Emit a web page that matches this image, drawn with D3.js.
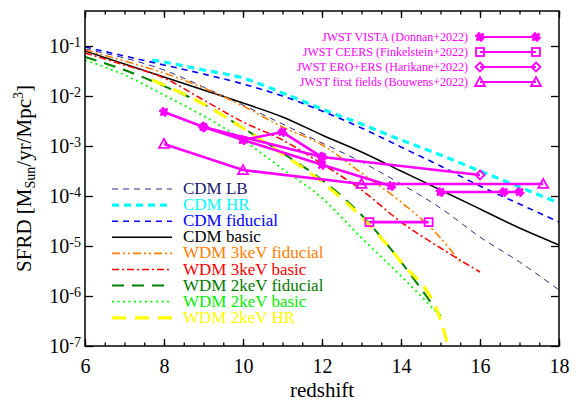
<!DOCTYPE html>
<html>
<head>
<meta charset="utf-8">
<script src="https://cdn.jsdelivr.net/npm/d3@7"></script>
<style>
body { margin: 0; background: white; }
svg { display: block; font-family: 'Liberation Serif', 'Times New Roman', serif; }
</style>
</head>
<body>
<svg id="fig_sfrd"></svg>
<script>
'use strict';

// ---- model curves: redshift and SFRD [Msun/yr/Mpc^3]
const z_full = [6, 7, 8, 9, 10, 11, 12, 13, 14, 15, 16, 17, 18];
const sfrd_cdm_lb = [8.7e-2, 5.75e-2, 3.31e-2, 1.51e-2, 6.6e-3, 2.75e-3, 1.15e-3, 4.8e-4, 1.74e-4, 5.75e-5, 1.51e-5, 4.8e-6, 1.32e-6];
const z_cdm_hr = [7.7, 8, 9, 10, 11, 12, 13, 14, 15, 16, 17, 18];
const sfrd_cdm_hr = [5.25e-2, 4.79e-2, 3.31e-2, 2.29e-2, 1.15e-2, 5.5e-3, 2.75e-3, 1.32e-3, 6.6e-4, 3.16e-4, 1.51e-4, 7.24e-5];
const sfrd_cdm_fid = [9.55e-2, 6.31e-2, 4.17e-2, 2.75e-2, 1.74e-2, 1.0e-2, 5.0e-3, 2.29e-3, 9.55e-4, 3.98e-4, 1.58e-4, 6.92e-5, 3.02e-5];
const sfrd_cdm_basic = [7.94e-2, 4.37e-2, 2.4e-2, 1.32e-2, 7.24e-3, 3.8e-3, 1.66e-3, 7.59e-4, 3.16e-4, 1.32e-4, 5.5e-5, 2.29e-5, 1.05e-5];
const z_wdm3_fid = [6, 7, 8, 9, 10, 11, 12, 13, 14, 15, 15.5];
const sfrd_wdm3_fid = [8.32e-2, 5.01e-2, 2.88e-2, 1.45e-2, 6.31e-3, 2.4e-3, 1.05e-3, 2.88e-4, 7.59e-5, 1.45e-5, 4.8e-6];
const z_wdm3_basic = [6, 7, 8, 9, 10, 11, 12, 13, 14, 15, 16];
const sfrd_wdm3_basic = [7.24e-2, 4.17e-2, 2.29e-2, 8.32e-3, 3.02e-3, 1.32e-3, 4.37e-4, 1.32e-4, 3.02e-5, 9.12e-6, 3.02e-6];
const z_wdm2 = [6, 7, 8, 9, 10, 11, 12, 13, 14, 15];
const sfrd_wdm2_fid = [6.03e-2, 3.31e-2, 1.58e-2, 6.92e-3, 2.29e-3, 7.24e-4, 2.09e-4, 4.17e-5, 4.79e-6, 3.98e-7];
const sfrd_wdm2_basic = [5.25e-2, 2.63e-2, 1.05e-2, 3.98e-3, 1.32e-3, 3.47e-4, 9.12e-5, 1.45e-5, 2.51e-6, 3.98e-7];
const z_wdm2_hr = [7.7, 8, 9, 10, 11, 12, 13, 14, 15, 15.2];
const sfrd_wdm2_hr = [2.09e-2, 1.66e-2, 6.92e-3, 2.29e-3, 6.92e-4, 1.91e-4, 3.8e-5, 4.79e-6, 3.31e-7, 9.5e-8];

const model_names = ['CDM LB', 'CDM HR', 'CDM fiducial', 'CDM basic', 'WDM 3keV fiducial',
    'WDM 3keV basic', 'WDM 2keV fiducial', 'WDM 2keV basic', 'WDM 2keV HR'];

// ---- JWST observations, each list is drawn as connected points
const donnan_z = [[8, 9, 10, 11, 12], [10, 12, 13.75], [15, 16.6, 17]];
const donnan_sfrd = [[4.8e-3, 2.4e-3, 1.32e-3, 1.9e-3, 6.0e-4], [1.32e-3, 4.2e-4, 1.58e-4], [1.2e-4, 1.2e-4, 1.2e-4]];
const finkelstein_z = [[13.2, 14.7]];
const finkelstein_sfrd = [[3.0e-5, 3.0e-5]];
const harikane_z = [[9, 12, 16]];
const harikane_sfrd = [[2.4e-3, 6.0e-4, 2.63e-4]];
const bouwens_z = [[8, 10, 13, 17.6]];
const bouwens_sfrd = [[1.1e-3, 3.3e-4, 1.74e-4, 1.74e-4]];

const obs_names = ['JWST VISTA (Donnan+2022)', 'JWST CEERS (Finkelstein+2022)',
    'JWST ERO+ERS (Harikane+2022)', 'JWST first fields (Bouwens+2022)'];

// ---- axes ticks
const x_major = [6, 8, 10, 12, 14, 16, 18];
const x_minor = d3.range(6, 18.01, 0.5);
const y_major = [1e-7, 1e-6, 1e-5, 1e-4, 1e-3, 1e-2, 1e-1];

const fig_sfrd = {
    plot_id: '#fig_sfrd',
    width: 581,
    height: 401,
    left: 85,
    right: 559,
    top: 11,
    bottom: 346,
    magenta: '#ff00ff',

    // line styles, same order as model_names
    styles: [
        { color: '#2a2a8a', text: '#1a1a70', width: 1, dash: '6,5' },
        { color: '#00ffff', text: '#00ffff', width: 3.2, dash: '7,5' },
        { color: '#0000ff', text: '#0000ff', width: 1.6, dash: '6,5' },
        { color: '#000000', text: '#000000', width: 1.5, dash: null },
        { color: '#ff8000', text: '#ff8000', width: 1.6, dash: '8,3,2,3,2,3' },
        { color: '#ff0000', text: '#ff0000', width: 1.6, dash: '7,3,2,3' },
        { color: '#008000', text: '#007800', width: 2, dash: '12,8' },
        { color: '#00ff00', text: '#00ee00', width: 1.8, dash: '2,3.5' },
        { color: '#ffff00', text: '#ffff00', width: 3.2, dash: '14,9' }
    ],
    markers: ['asterisk', 'square', 'diamond', 'triangle'],

    init: function() {
        this.svg = d3.select(this.plot_id)
            .attr('width', this.width)
            .attr('height', this.height);
        this.x = d3.scaleLinear().domain([6, 18]).range([this.left, this.right]);
        this.y = d3.scaleLog().domain([1e-7, Math.pow(10, -0.3)]).range([this.bottom, this.top]);

        this.svg.append('clipPath')
            .attr('id', 'clip_plot')
            .append('rect')
            .attr('x', this.left)
            .attr('y', this.top)
            .attr('width', this.right - this.left)
            .attr('height', this.bottom - this.top);
    },

    draw: function() {
        this.init();
        this._draw_models();
        this._draw_obs();
        this._draw_axes();
        this._draw_legends();
    },

    _draw_models: function() {
        var self = this;
        var series = [
            [z_full, sfrd_cdm_lb],
            [z_cdm_hr, sfrd_cdm_hr],
            [z_full, sfrd_cdm_fid],
            [z_full, sfrd_cdm_basic],
            [z_wdm3_fid, sfrd_wdm3_fid],
            [z_wdm3_basic, sfrd_wdm3_basic],
            [z_wdm2, sfrd_wdm2_fid],
            [z_wdm2, sfrd_wdm2_basic],
            [z_wdm2_hr, sfrd_wdm2_hr]
        ];
        var line = d3.line()
            .x(function(d) { return self.x(d[0]); })
            .y(function(d) { return self.y(d[1]); })
            .curve(d3.curveMonotoneX);

        var g = this.svg.append('g').attr('clip-path', 'url(#clip_plot)');
        series.forEach(function(s, i) {
            var pts = s[0].map(function(z, k) { return [z, s[1][k]]; });
            var st = self.styles[i];
            g.append('path')
                .attr('d', line(pts))
                .attr('fill', 'none')
                .attr('stroke', st.color)
                .attr('stroke-width', st.width)
                .attr('stroke-dasharray', st.dash);
        });
    },

    _marker: function(g, type, cx, cy) {
        var c = this.magenta;
        if (type == 'asterisk') {
            g.append('rect')
                .attr('x', cx - 3.5).attr('y', cy - 3.5)
                .attr('width', 7).attr('height', 7)
                .attr('fill', c);
            g.append('path')
                .attr('d', d3.symbol(d3.symbolAsterisk, 70)())
                .attr('transform', 'translate(' + cx + ',' + cy + ') rotate(45)')
                .attr('fill', 'none')
                .attr('stroke', c)
                .attr('stroke-width', 2.2);
        } else if (type == 'square') {
            g.append('rect')
                .attr('x', cx - 4).attr('y', cy - 4)
                .attr('width', 8).attr('height', 8)
                .attr('fill', 'none')
                .attr('stroke', c)
                .attr('stroke-width', 1.8);
        } else if (type == 'diamond') {
            g.append('path')
                .attr('d', 'M' + cx + ',' + (cy - 4.5) + 'L' + (cx + 4.5) + ',' + cy +
                    'L' + cx + ',' + (cy + 4.5) + 'L' + (cx - 4.5) + ',' + cy + 'Z')
                .attr('fill', 'none')
                .attr('stroke', c)
                .attr('stroke-width', 1.8);
        } else {
            g.append('path')
                .attr('d', 'M' + cx + ',' + (cy - 5) + 'L' + (cx + 5) + ',' + (cy + 4) +
                    'L' + (cx - 5) + ',' + (cy + 4) + 'Z')
                .attr('fill', 'none')
                .attr('stroke', c)
                .attr('stroke-width', 1.8);
        }
    },

    _draw_obs: function() {
        var self = this;
        var sets = [
            [donnan_z, donnan_sfrd],
            [finkelstein_z, finkelstein_sfrd],
            [harikane_z, harikane_sfrd],
            [bouwens_z, bouwens_sfrd]
        ];
        var line = d3.line()
            .x(function(d) { return self.x(d[0]); })
            .y(function(d) { return self.y(d[1]); });
        var g = this.svg.append('g').attr('class', 'obs');

        // lines first, markers on top
        sets.forEach(function(s) {
            s[0].forEach(function(zs, j) {
                var pts = zs.map(function(z, k) { return [z, s[1][j][k]]; });
                g.append('path')
                    .attr('d', line(pts))
                    .attr('fill', 'none')
                    .attr('stroke', self.magenta)
                    .attr('stroke-width', 2.6);
            });
        });
        sets.forEach(function(s, i) {
            s[0].forEach(function(zs, j) {
                zs.forEach(function(z, k) {
                    self._marker(g, self.markers[i], self.x(z), self.y(s[1][j][k]));
                });
            });
        });
    },

    _draw_axes: function() {
        var self = this;
        // drop the d3 default domain path and sans-serif font
        var plain = function(g) {
            g.select('.domain').remove();
            g.attr('font-family', null).attr('font-size', null);
        };

        this.svg.append('g')
            .attr('transform', 'translate(0,' + this.bottom + ')')
            .call(d3.axisBottom(this.x).tickValues(x_minor).tickSizeInner(-3.5).tickSizeOuter(0).tickFormat(''))
            .call(plain);
        var gx = this.svg.append('g')
            .attr('transform', 'translate(0,' + this.bottom + ')')
            .call(d3.axisBottom(this.x).tickValues(x_major).tickSizeInner(-7).tickSizeOuter(0)
                .tickPadding(13).tickFormat(d3.format('d')))
            .call(plain);
        this.svg.append('g')
            .attr('transform', 'translate(0,' + this.top + ')')
            .call(d3.axisTop(this.x).tickValues(x_minor).tickSizeInner(-3.5).tickSizeOuter(0).tickFormat(''))
            .call(plain);
        this.svg.append('g')
            .attr('transform', 'translate(0,' + this.top + ')')
            .call(d3.axisTop(this.x).tickValues(x_major).tickSizeInner(-7).tickSizeOuter(0).tickFormat(''))
            .call(plain);

        var gy = this.svg.append('g')
            .attr('transform', 'translate(' + this.left + ',0)')
            .call(d3.axisLeft(this.y).tickValues(y_major).tickSizeInner(-8).tickSizeOuter(0).tickPadding(4))
            .call(plain);
        this.svg.append('g')
            .attr('transform', 'translate(' + this.right + ',0)')
            .call(d3.axisRight(this.y).tickValues(y_major).tickSizeInner(-8).tickSizeOuter(0).tickFormat(''))
            .call(plain);

        this.svg.selectAll('.tick line').attr('stroke-width', 1.3);

        gx.selectAll('.tick text')
            .attr('font-size', 20)
            .attr('fill', '#000');

        gy.selectAll('.tick text')
            .attr('font-size', 20)
            .attr('fill', '#000')
            .each(function(d) {
                var t = d3.select(this);
                t.text('');
                t.append('tspan').text('10');
                t.append('tspan')
                    .attr('dy', '-0.45em')
                    .attr('font-size', 14)
                    .text(Math.round(Math.log10(d)));
            });

        // frame
        this.svg.append('rect')
            .attr('x', this.left)
            .attr('y', this.top)
            .attr('width', this.right - this.left)
            .attr('height', this.bottom - this.top)
            .attr('fill', 'none')
            .attr('stroke', '#000')
            .attr('stroke-width', 1.5);

        // axis titles
        this.svg.append('text')
            .attr('x', (this.left + this.right) / 2)
            .attr('y', 397)
            .attr('text-anchor', 'middle')
            .attr('font-size', 21)
            .text('redshift');

        var yl = this.svg.append('text')
            .attr('transform', 'translate(31,' + ((this.top + this.bottom) / 2) + ') rotate(-90)')
            .attr('text-anchor', 'middle')
            .attr('font-size', 21);
        yl.append('tspan').text('SFRD [M');
        yl.append('tspan').attr('font-size', 14).attr('dy', 4).text('Sun');
        yl.append('tspan').attr('dy', -4).text('/yr/Mpc');
        yl.append('tspan').attr('font-size', 14).attr('dy', -8).text('3');
        yl.append('tspan').attr('dy', 8).text(']');
    },

    _draw_legends: function() {
        var self = this;

        // model legend, lower left
        var gl = this.svg.append('g').attr('class', 'legend');
        model_names.forEach(function(name, i) {
            var ly = 189 + i * 16.1;
            var st = self.styles[i];
            gl.append('line')
                .attr('x1', 112).attr('x2', 172)
                .attr('y1', ly).attr('y2', ly)
                .attr('stroke', st.color)
                .attr('stroke-width', st.width)
                .attr('stroke-dasharray', st.dash);
            gl.append('text')
                .attr('x', 183)
                .attr('y', ly + 5)
                .attr('font-size', 17)
                .attr('fill', st.text)
                .text(name);
        });

        // observation legend, upper right
        var go = this.svg.append('g').attr('class', 'legend_obs');
        obs_names.forEach(function(name, i) {
            var ly = 37 + i * 15;
            go.append('line')
                .attr('x1', 480).attr('x2', 536)
                .attr('y1', ly).attr('y2', ly)
                .attr('stroke', self.magenta)
                .attr('stroke-width', 2);
            self._marker(go, self.markers[i], 480, ly);
            self._marker(go, self.markers[i], 536, ly);
            go.append('text')
                .attr('x', 468)
                .attr('y', ly + 4)
                .attr('text-anchor', 'end')
                .attr('font-size', 12)
                .attr('fill', self.magenta)
                .text(name);
        });
    }
};

fig_sfrd.draw();
</script>
</body>
</html>
